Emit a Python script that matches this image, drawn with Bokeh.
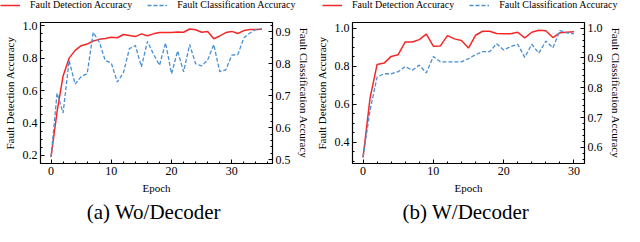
from bokeh.plotting import figure
from bokeh.models import (Range1d, LinearAxis, SingleIntervalTicker, Legend,
                          LegendItem, Title, PrintfTickFormatter)
from bokeh.layouts import row, column
from bokeh.embed import file_html
from bokeh.resources import INLINE

# ---------------- data ----------------
epochs_a = list(range(36))
det_a = [0.19, 0.47, 0.69, 0.80, 0.848, 0.877, 0.887, 0.906, 0.916, 0.921,
         0.929, 0.926, 0.946, 0.94, 0.933, 0.95, 0.938, 0.95, 0.958, 0.958,
         0.958, 0.962, 0.96, 0.98, 0.975, 0.96, 0.965, 0.92, 0.937, 0.958,
         0.965, 0.952, 0.97, 0.977, 0.977, 0.979]
cls_a = [0.508, 0.708, 0.646, 0.81, 0.736, 0.76, 0.769, 0.898, 0.868, 0.81,
         0.802, 0.743, 0.771, 0.847, 0.857, 0.79, 0.87, 0.83, 0.795, 0.865,
         0.769, 0.84, 0.775, 0.86, 0.8, 0.793, 0.812, 0.86, 0.775, 0.781,
         0.827, 0.829, 0.881, 0.896, 0.907, 0.909]

epochs_b = list(range(31))
det_b = [0.321, 0.633, 0.809, 0.816, 0.851, 0.86, 0.927, 0.927, 0.939, 0.968,
         0.905, 0.906, 0.96, 0.943, 0.935, 0.895, 0.962, 0.983, 0.983, 0.971,
         0.97, 0.97, 0.978, 0.948, 0.978, 0.988, 0.986, 0.95, 0.975, 0.978,
         0.98]
cls_b = [0.567, 0.725, 0.836, 0.847, 0.847, 0.854, 0.871, 0.859, 0.876, 0.85,
         0.905, 0.887, 0.887, 0.887, 0.887, 0.898, 0.911, 0.921, 0.921, 0.948,
         0.927, 0.938, 0.946, 0.902, 0.946, 0.916, 0.957, 0.934, 0.992, 0.984,
         0.981]

label_det = "Fault Detection Accuracy"
label_cls = "Fault Classification Accuracy"
caption_a = "(a)  Wo/Decoder"
caption_b = "(b)  W/Decoder"

RED = "#f52828"
BLUE = "#4a8fd2"
FONT = "Liberation Serif"
MAIN_W, MAIN_H = 312, 214
TOP = 12
LEG_H = 10


def style_axis(ax):
    ax.major_tick_in = 4
    ax.major_tick_out = 0
    ax.minor_tick_in = 2
    ax.minor_tick_out = 0
    ax.axis_line_color = "black"
    ax.major_tick_line_color = "black"
    ax.minor_tick_line_color = "black"
    ax.major_label_text_font = FONT
    ax.major_label_text_font_size = "12px"
    ax.major_label_text_color = "black"
    ax.major_label_standoff = 3
    ax.axis_label_text_font = FONT
    ax.axis_label_text_font_size = "11px"
    ax.axis_label_text_font_style = "normal"
    ax.axis_label_text_color = "black"
    ax.axis_label_standoff = 4


def bare(w, h):
    f = figure(width=w, height=h, output_backend="svg", toolbar_location=None,
               x_axis_type=None, y_axis_type=None, min_border=0,
               x_range=Range1d(-100, -99), y_range=Range1d(-100, -99))
    f.outline_line_color = None
    f.xgrid.visible = False
    f.ygrid.visible = False
    f.background_fill_color = "white"
    f.border_fill_color = "white"
    return f


def make_legend(leg_x, ep, det, cls):
    f = bare(312, LEG_H)
    r1 = f.line(ep[:1], det[:1], line_color=RED, line_width=1.5)
    r2 = f.line(ep[:1], cls[:1], line_color=BLUE, line_width=1.3,
                line_dash="4 2")
    leg = Legend(items=[LegendItem(label=label_det, renderers=[r1], index=0),
                        LegendItem(label=label_cls, renderers=[r2], index=0)],
                 orientation="horizontal", location=(leg_x, 0))
    leg.label_text_font = FONT
    leg.label_text_font_size = "10px"
    leg.label_text_color = "black"
    leg.label_height = 10
    leg.glyph_height = 10
    leg.glyph_width = 20
    leg.label_standoff = 10
    leg.spacing = 15
    leg.padding = 0
    leg.margin = 0
    leg.border_line_alpha = 0
    leg.background_fill_alpha = 0
    f.add_layout(leg, "center")
    return f


def make_panel(ep, det, cls, xr, yr, yr2, caption):
    p = figure(width=MAIN_W, height=MAIN_H, output_backend="svg",
               toolbar_location=None,
               x_range=Range1d(*xr), y_range=Range1d(*yr),
               min_border_left=38, min_border_right=38,
               min_border_top=TOP, min_border_bottom=0)
    p.extra_y_ranges = {"cls": Range1d(*yr2)}
    p.xgrid.visible = False
    p.ygrid.visible = False
    p.outline_line_color = "black"
    p.outline_line_width = 1.2
    p.background_fill_color = "white"
    p.border_fill_color = "white"

    p.xaxis[0].ticker = SingleIntervalTicker(interval=10, num_minor_ticks=5)
    p.xaxis[0].axis_label = "Epoch"
    p.yaxis[0].ticker = SingleIntervalTicker(interval=0.2, num_minor_ticks=4)
    p.yaxis[0].formatter = PrintfTickFormatter(format="%.1f")
    p.yaxis[0].axis_label = label_det

    ax2 = LinearAxis(y_range_name="cls", axis_label=label_cls,
                     ticker=SingleIntervalTicker(interval=0.1, num_minor_ticks=5),
                     formatter=PrintfTickFormatter(format="%.1f"))
    p.add_layout(ax2, "right")

    for ax in [p.xaxis[0], p.yaxis[0], ax2]:
        style_axis(ax)

    p.line(ep, det, line_color=RED, line_width=1.5)
    p.line(ep, cls, line_color=BLUE, line_width=1.3, line_dash="4 2",
           y_range_name="cls")

    t = Title(text=caption, align="center", text_font=FONT,
              text_font_size="21px", text_font_style="normal",
              text_color="black", standoff=2)
    p.add_layout(t, "below")
    return p


pa = make_panel(epochs_a, det_a, cls_a, (-1.75, 36.75), (0.15, 1.02),
                (0.488, 0.929), caption_a)
pb = make_panel(epochs_b, det_b, cls_b, (-1.5, 31.5), (0.289, 1.029),
                (0.546, 1.019), caption_b)

layout = column(row(make_legend(0, epochs_a, det_a, cls_a),
                    make_legend(10, epochs_b, det_b, cls_b)),
                row(pa, pb))
open("out.html", "w").write(file_html(layout, INLINE))
